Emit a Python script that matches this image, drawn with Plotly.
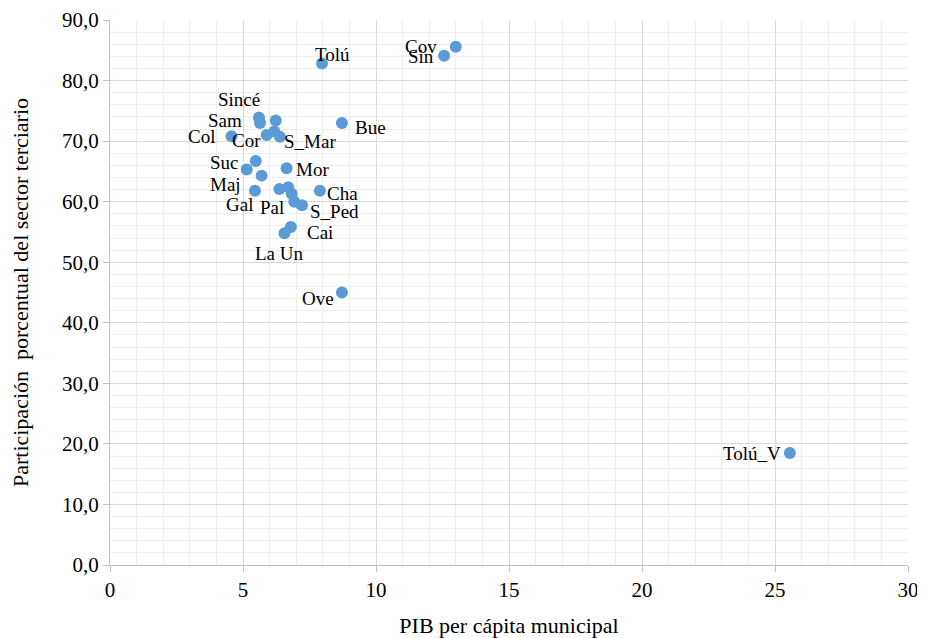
import plotly.graph_objects as go

names = ["Cov", "Sin", "Tolú", "Bue", "Tolú_V", "Ove",
         "Sincé", "Sam", "", "Col", "Cor", "", "S_Mar",
         "Suc", "", "Maj", "Mor", "Gal", "Pal", "", "", "", "S_Ped", "Cha",
         "Cai", "La Un"]
pib = [13.0, 12.56, 7.97, 8.72, 25.56, 8.72,
       5.60, 5.64, 6.23, 4.57, 5.89, 6.18, 6.39,
       5.48, 5.14, 5.70, 6.64, 5.45, 6.37, 6.70, 6.83, 6.93, 7.22, 7.89,
       6.80, 6.56]
terciario = [85.6, 84.1, 82.8, 73.0, 18.5, 45.0,
             73.9, 73.0, 73.4, 70.8, 71.0, 71.6, 70.7,
             66.7, 65.3, 64.3, 65.5, 61.8, 62.1, 62.4, 61.3, 60.0, 59.4, 61.8,
             55.8, 54.8]
# label pixel offsets (dx right, dy down) relative to each point
label_dx = [-35, -23, 10, 29, -38, -24,
            -20, -35, 0, -30, -20, 0, 30,
            -31, 0, -36, 26, -15, -7, 0, 0, 0, 32, 23,
            29, -5]
label_dy = [0, 1, -9, 5, 1, 6,
            -18, -2, 0, 0, 5, 0, 5,
            1, 0, 9, 1, 14, 19, 0, 0, 0, 6, 3,
            5, 20]

y_ticks = [0, 10, 20, 30, 40, 50, 60, 70, 80, 90]
y_ticktext = ["0,0", "10,0", "20,0", "30,0", "40,0", "50,0", "60,0", "70,0", "80,0", "90,0"]
x_ticks = [0, 5, 10, 15, 20, 25, 30]

font_family = "Liberation Serif, Times New Roman, serif"

fig = go.Figure()
fig.add_trace(go.Scatter(
    x=pib, y=terciario, mode="markers",
    marker=dict(color="#5B9BD5", size=12, line=dict(width=0)),
    hoverinfo="x+y", showlegend=False,
))

for xv, yv, t, dx, dy in zip(pib, terciario, names, label_dx, label_dy):
    if not t:
        continue
    fig.add_annotation(x=xv, y=yv, text=t, showarrow=False,
                       xshift=dx, yshift=-dy,
                       font=dict(family=font_family, size=19, color="#000000"))

fig.update_layout(
    width=917, height=630,
    margin=dict(l=102, r=17, t=12, b=73),
    paper_bgcolor="white", plot_bgcolor="white",
    font=dict(family=font_family, size=21, color="#000000"),
)
fig.update_xaxes(
    range=[0, 30], tickvals=x_ticks, ticktext=[str(v) for v in x_ticks],
    showgrid=True, gridcolor="#d9d9d9", gridwidth=1,
    minor=dict(dtick=1, showgrid=True, gridcolor="#eeeeee", gridwidth=1),
    showline=True, linecolor="#bfbfbf", linewidth=1,
    ticks="outside", ticklen=6, tickcolor="#bfbfbf",
    zeroline=False, automargin=False,
    tickfont=dict(family=font_family, size=21),
    title=dict(text="PIB per cápita municipal", font=dict(family=font_family, size=22), standoff=17),
)
fig.update_yaxes(
    range=[0, 90], tickvals=y_ticks, ticktext=y_ticktext,
    showgrid=True, gridcolor="#d9d9d9", gridwidth=1,
    minor=dict(dtick=2, showgrid=True, gridcolor="#eeeeee", gridwidth=1),
    showline=True, linecolor="#bfbfbf", linewidth=1,
    ticks="outside", ticklen=6, tickcolor="#bfbfbf",
    zeroline=False, automargin=False,
    tickfont=dict(family=font_family, size=21),
    title=dict(text="Participación  porcentual del sector terciario", font=dict(family=font_family, size=22), standoff=28),
)

fig.write_html("out.html")
